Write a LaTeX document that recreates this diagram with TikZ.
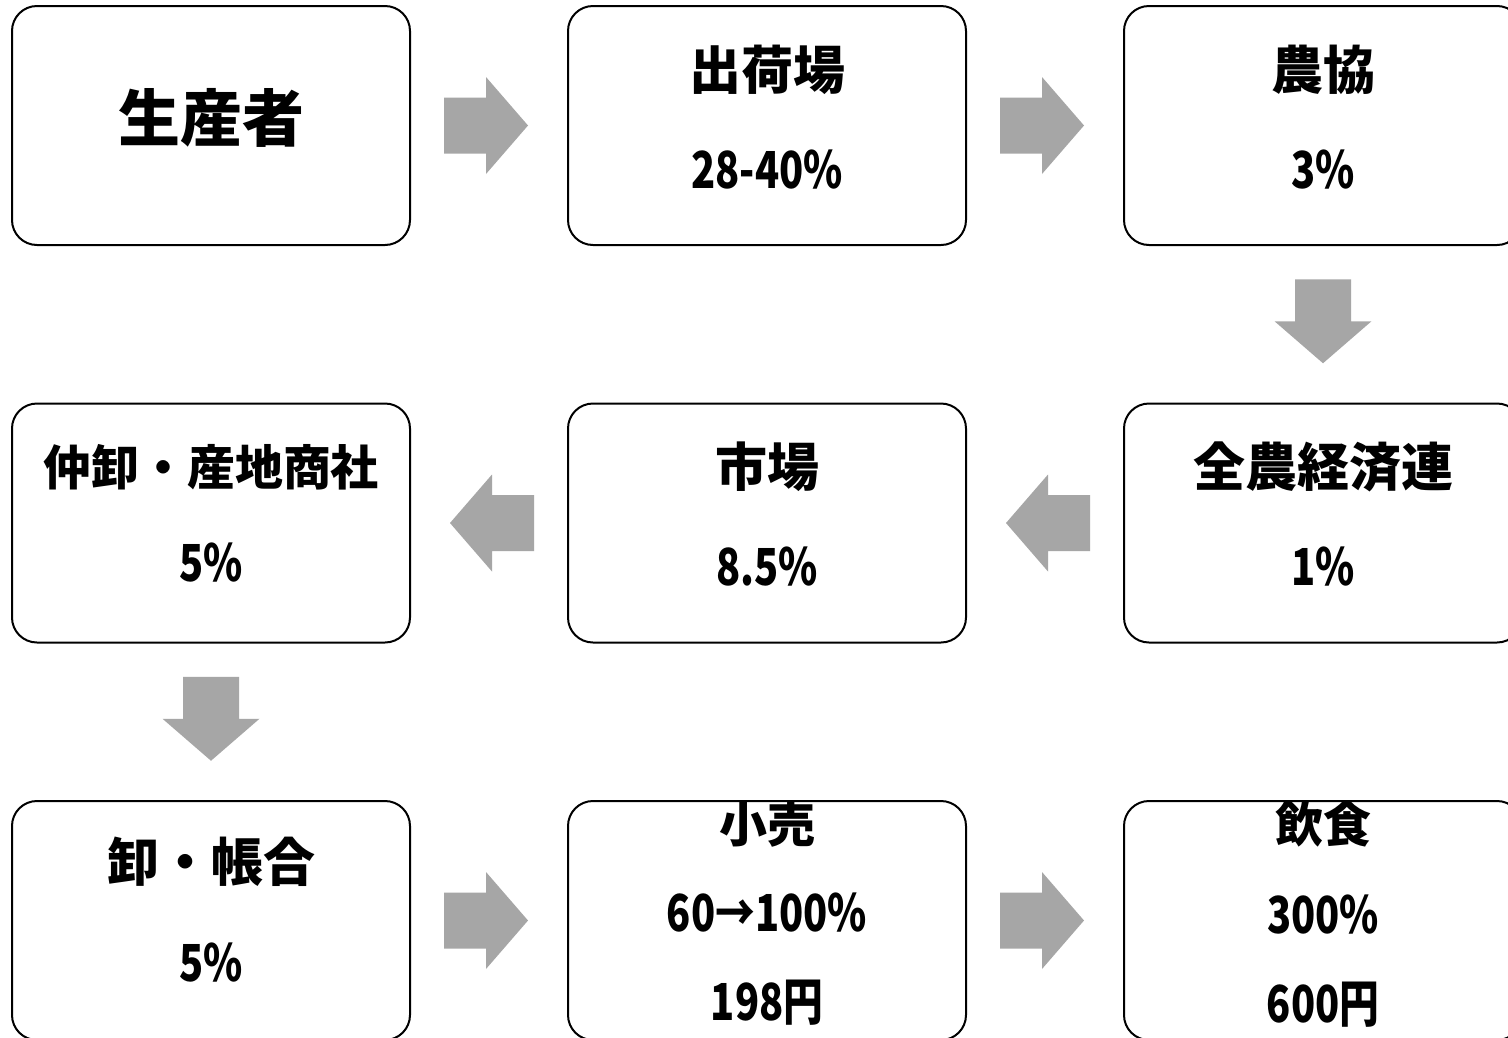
\documentclass[tikz,border=0pt]{standalone}
\usepackage{fontspec}
\usepackage{graphicx}
\setmainfont{Noto Sans CJK JP}
\usetikzlibrary{calc}
\newcommand\jpA{\fontsize{62}{62}\selectfont\bfseries}
\newcommand\jpB{\fontsize{52}{52}\selectfont\bfseries}
\newcommand\jpC{\fontsize{48}{48}\selectfont\bfseries}
\newcommand\numtxt[1]{\scalebox{0.78}[1]{\fontsize{51}{51}\selectfont\bfseries #1}}
\tikzset{
  box/.style={draw=black, line width=2pt, rounded corners=25pt, minimum width=398pt, minimum height=239pt, inner sep=0pt, fill=white},
  txt/.style={inner sep=0pt, anchor=center},
  blockarrow/.pic={\fill[arrowgray] (-42,-28) -- (0,-28) -- (0,-48.5) -- (42,0) -- (0,48.5) -- (0,28) -- (-42,28) -- cycle;}
}
\definecolor{arrowgray}{HTML}{A6A6A6}
\begin{document}
\begin{tikzpicture}[x=1pt,y=-1pt]
\useasboundingbox (0,0) rectangle (1508,1037);
\clip (0,0) rectangle (1508,1037);
\fill[white] (0,0) rectangle (1508,1037);
% boxes
\node[box] (b1) at (211,125.5) {};
\node[box] (b2) at (767,125.5) {};
\node[box] (b3) at (1323,125.5) {};
\node[box] (b4) at (211,523) {};
\node[box] (b5) at (767,523) {};
\node[box] (b6) at (1323,523) {};
\node[box] (b7) at (211,920.5) {};
\node[box] (b8) at (767,920.5) {};
\node[box] (b9) at (1323,920.5) {};
% texts
\node[txt] (t1) at (211,118) {\jpA 生産者};
\node[txt] (t2a) at (767,70) {\jpB 出荷場};
\node[txt] (t2b) at (767,170) {\numtxt{28-40\%}};
\node[txt] (t3a) at (1323,70) {\jpB 農協};
\node[txt] (t3b) at (1323,170) {\numtxt{3\%}};
\node[txt] (t4a) at (211,467) {\jpC 仲卸・産地商社};
\node[txt] (t4b) at (211,563) {\numtxt{5\%}};
\node[txt] (t5a) at (767,467) {\jpB 市場};
\node[txt] (t5b) at (767,567) {\numtxt{8.5\%}};
\node[txt] (t6a) at (1323,467) {\jpB 全農経済連};
\node[txt] (t6b) at (1323,567) {\numtxt{1\%}};
\node[txt] (t7a) at (211,862) {\jpB 卸・帳合};
\node[txt] (t7b) at (211,963) {\numtxt{5\%}};
\node[txt] (t8a) at (767,824) {\jpC 小売};
\node[txt] (t8b) at (767,913) {\numtxt{60→100\%}};
\node[txt] (t8c) at (767,1003) {\numtxt{198円}};
\node[txt] (t9a) at (1323,824) {\jpC 飲食};
\node[txt] (t9b) at (1323,915) {\numtxt{300\%}};
\node[txt] (t9c) at (1323,1005) {\numtxt{600円}};
% arrows
\pic at ($(b1.east)!0.5!(b2.west)+(-3,0)$) {blockarrow};
\pic at ($(b2.east)!0.5!(b3.west)+(-3,0)$) {blockarrow};
\pic[rotate=-90] at ($(b3.south)!0.5!(b6.north)+(0,-3)$) {blockarrow};
\pic[rotate=180] at ($(b6.west)!0.5!(b5.east)+(3,0)$) {blockarrow};
\pic[rotate=180] at ($(b5.west)!0.5!(b4.east)+(3,0)$) {blockarrow};
\pic[rotate=-90] at ($(b4.south)!0.5!(b7.north)+(0,-3)$) {blockarrow};
\pic at ($(b7.east)!0.5!(b8.west)+(-3,0)$) {blockarrow};
\pic at ($(b8.east)!0.5!(b9.west)+(-3,0)$) {blockarrow};
\end{tikzpicture}
\end{document}
